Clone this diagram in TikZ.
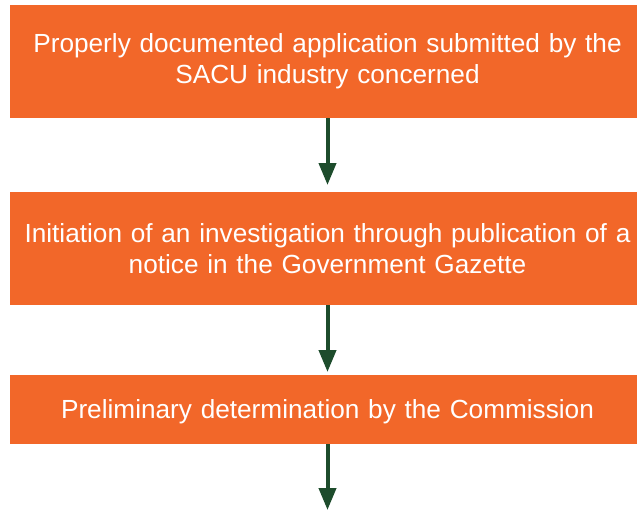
\documentclass[tikz,border=0pt]{standalone}
\usepackage{fontspec}
\setmainfont{Liberation Sans}
\usetikzlibrary{positioning,arrows.meta}
\definecolor{stepfill}{HTML}{F26729}
\definecolor{arrowgreen}{HTML}{1D4C2C}
\begin{document}
\begin{tikzpicture}[x=1pt, y=1pt,
                    node distance=74pt,
                    line width=4pt]
    \tikzstyle{stage}=[rectangle, fill=stepfill, text=white, align=center,
                       minimum width=635pt, text width=625pt, inner sep=0pt, outer sep=0pt,
                       font=\fontsize{26.2}{31}\selectfont]
    \tikzstyle{tall}=[stage, minimum height=113pt]
    \tikzstyle{short}=[stage, minimum height=69pt, text depth=0pt]
    \tikzstyle{flow}=[draw=arrowgreen, -{Triangle[length=22pt,width=17pt]}]

    \useasboundingbox (0,0) rectangle (637,-511);

    \node[tall] (apply) at (327.5,-61.5) {Properly documented application submitted by the\\SACU industry concerned};
    \node[tall, below=of apply] (initiate) {Initiation of an investigation through publication of a\\notice in the Government Gazette};
    \node[short, below=70pt of initiate] (prelim) {Preliminary determination by the Commission};
    \coordinate (next) at (327.5,-510);

    \draw[flow] (apply.south) -- ([yshift=7pt]initiate.north);
    \draw[flow] (initiate.south) -- ([yshift=3pt]prelim.north);
    \draw[flow] (prelim.south) -- (next);
\end{tikzpicture}
\end{document}
